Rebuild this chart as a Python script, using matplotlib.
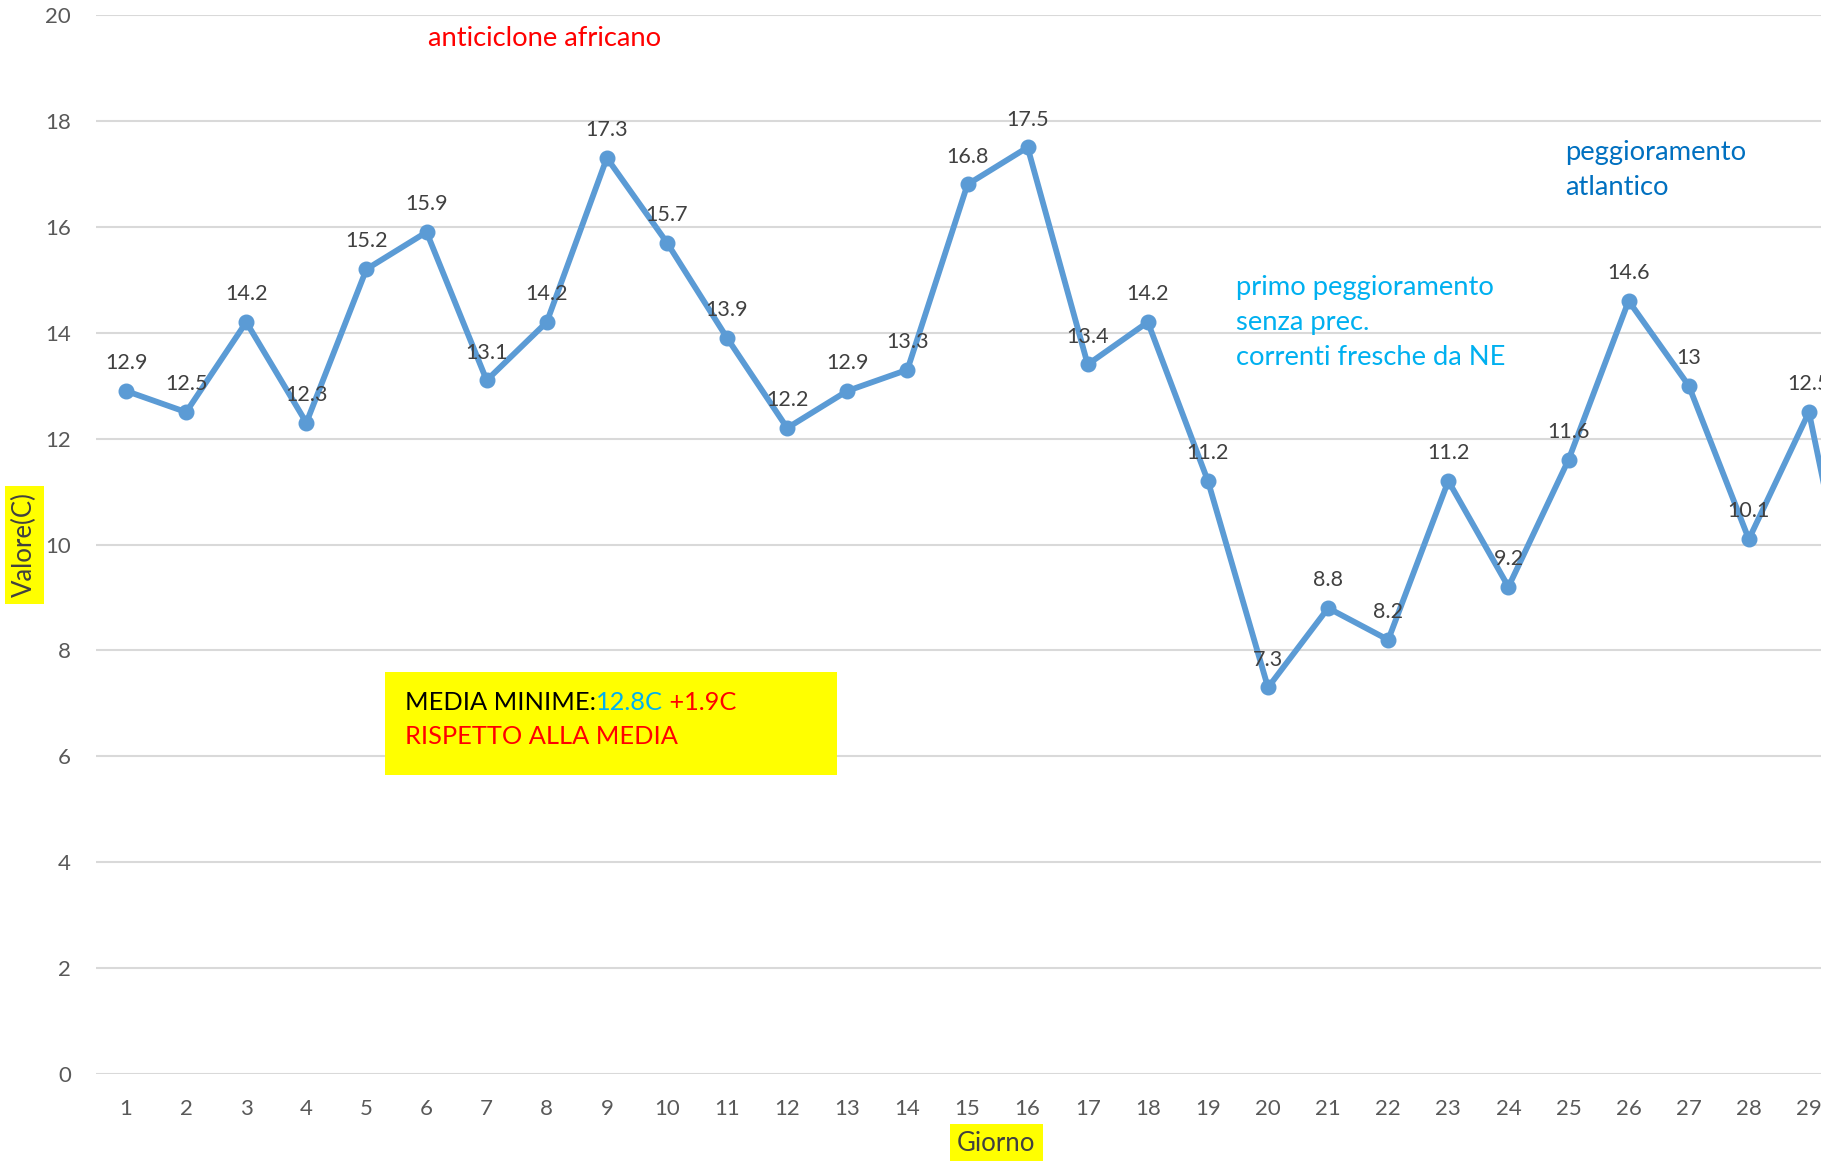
import matplotlib
matplotlib.use('Agg')
import matplotlib.pyplot as plt
from matplotlib.patches import Rectangle

plt.rcParams['font.family'] = ['Lato', 'DejaVu Sans']

# dati: temperature minime giornaliere
giorni = list(range(1, 31))
minime = [12.9, 12.5, 14.2, 12.3, 15.2, 15.9, 13.1, 14.2, 17.3, 15.7,
          13.9, 12.2, 12.9, 13.3, 16.8, 17.5, 13.4, 14.2, 11.2, 7.3,
          8.8, 8.2, 11.2, 9.2, 11.6, 14.6, 13.0, 10.1, 12.5, 7.0]
yticks = [0, 2, 4, 6, 8, 10, 12, 14, 16, 18, 20]

fig = plt.figure(figsize=(18.39, 11.61), dpi=100)
ax = fig.add_axes([0.0522, 0.0749, 0.9380, 0.9122])

ax.plot(giorni, minime, color='#5B9BD5', lw=4.2, marker='o', ms=10.5,
        solid_joinstyle='round', clip_on=True)

# etichette dati
for g, v in zip(giorni, minime):
    lab = ('%g' % v)
    ax.annotate(lab, (g, v), xytext=(0, 20), textcoords='offset points',
                ha='center', va='center', fontsize=15.5, color='#404040',
                annotation_clip=True, clip_on=True)

ax.set_xlim(0.5, 29.2)
ax.set_ylim(0, 20)
ax.set_yticks(yticks)
ax.set_xticks(giorni[:29])
ax.grid(axis='y', color='#d9d9d9', lw=1.5)
ax.set_axisbelow(True)
for s in ax.spines.values():
    s.set_visible(False)
ax.tick_params(length=0, labelsize=16, labelcolor='#595959')
ax.tick_params(axis='y', pad=18)
ax.tick_params(axis='x', pad=18)

ax.set_ylabel('Valore(C)', fontsize=18.5, color='#404040', va='center',
              bbox=dict(facecolor='yellow', edgecolor='none', pad=5))
ax.yaxis.set_label_coords(-0.0414, 0.4995)
ax.set_xlabel('Giorno', fontsize=18.5, color='#404040', va='center',
              bbox=dict(facecolor='yellow', edgecolor='none', pad=5))
ax.xaxis.set_label_coords(0.522, -0.0656)

# annotazioni
ax.text(6.02, 19.55, 'anticiclone africano', color='#FF0000', fontsize=19.7,
        ha='left', va='center')
ax.text(24.94, 17.08, 'peggioramento\natlantico', color='#0070C0',
        fontsize=19.7, ha='left', va='center', linespacing=1.5)
ax.text(19.47, 14.19, 'primo peggioramento\nsenza prec.\ncorrenti fresche da NE',
        color='#00B0F0', fontsize=19.7, ha='left', va='center', linespacing=1.5)

# riquadro giallo
fig.patches.append(Rectangle((0.2094, 0.3325), 0.2458, 0.0887,
                             transform=fig.transFigure, facecolor='yellow',
                             edgecolor='none', zorder=5))
x0, y1, y2 = 405 / 1839, 1 - 702 / 1161, 1 - 737 / 1161
r = fig.canvas.get_renderer()
xx = x0
for s, c in [('MEDIA MINIME:', 'black'), ('12.8C', '#00B0F0'), (' +1.9C', '#FF0000')]:
    t = fig.text(xx, y1, s, color=c, fontsize=18.3, ha='left', va='center', zorder=6)
    bb = t.get_window_extent(renderer=r)
    xx += bb.width / fig.bbox.width
fig.text(x0, y2, 'RISPETTO ALLA MEDIA', color='#FF0000', fontsize=18.3,
         ha='left', va='center', zorder=6)

fig.savefig('out.png', dpi=100)
